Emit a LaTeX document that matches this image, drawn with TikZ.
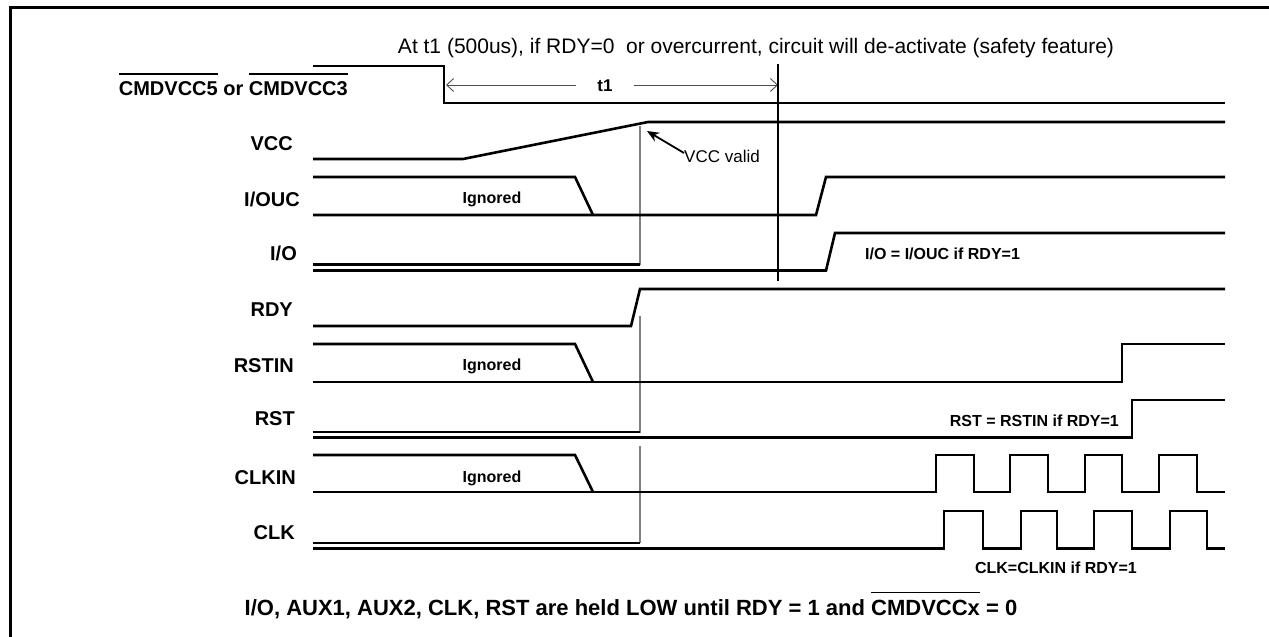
\documentclass[tikz,border=0pt]{standalone}
\usepackage{fontspec}
\setmainfont{Liberation Sans}
\usetikzlibrary{arrows.meta}
\newcommand\ovl[1]{\vbox{\hrule height 1.2pt\kern 6.5pt\hbox{#1}}}
\begin{document}
\begin{tikzpicture}[x=1pt,y=-1pt,
  sig/.style={line width=2.6pt, line join=miter, black},
  lbl/.style={anchor=east, font=\fontsize{20}{24}\selectfont\bfseries, inner sep=0pt, text height=14.3pt, text depth=0pt},
  note/.style={font=\fontsize{16}{19}\selectfont\bfseries, inner sep=0pt, text height=11.5pt, text depth=0pt},
  marker/.style={line width=1.8pt, color=black!50},
  tline/.style={line width=1.1pt, black},
  tarrow/.style={line width=0.9pt, black!70, -{Straight Barb[length=7pt,width=13pt]}},
  varrow/.style={line width=1.8pt, black, -{Stealth[length=12pt,width=10pt]}}]
\useasboundingbox (0,0) rectangle (1269,637);
\clip (0,0) rectangle (1269,637);
% frame
\draw[line width=3pt] (10,660) -- (10,7) -- (1290,7);
% title
\node[anchor=base, inner sep=0pt, font=\fontsize{21}{25}\selectfont] (title) at (756,53.5)
  {At t1 (500us), if RDY=0\ \ or overcurrent, circuit will de-activate (safety feature)};
% labels
\node[lbl] (lcmd) at (348,88) {\ovl{CMDVCC5} or \ovl{CMDVCC3}};
\node[lbl] (lvcc) at (293,143) {VCC};
\node[lbl] (liouc) at (300,199) {I/OUC};
\node[lbl] (lio) at (297,253) {I/O};
\node[lbl] (lrdy) at (293,309) {RDY};
\node[lbl] (lrstin) at (294,365) {RSTIN};
\node[lbl] (lrst) at (295,418) {RST};
\node[lbl] (lclkin) at (296,477) {CLKIN};
\node[lbl] (lclk) at (295,532) {CLK};
% CMDVCC
\draw[sig] (313,66) -- (444,66) -- (444,103) -- (1225,103);
% t1
\node[font=\fontsize{17}{20}\selectfont\bfseries, inner xsep=21pt, inner ysep=0pt, text height=12pt, text depth=0pt] (t1) at (605,85) {t1};
\coordinate (t1L) at (446,85);
\coordinate (t1R) at (778,85);
\draw[tarrow] (t1.west) -- (t1L);
\draw[tarrow] (t1.east) -- (t1R);
\draw[tline] (778,64) -- (778,281);
% VCC
\draw[sig] (313,159) -- (463,159) -- (648,122) -- (1225,122);
\draw[marker] (640,126) -- (640,265);
\draw[marker] (640,316) -- (640,433);
\draw[marker] (640,446) -- (640,543);
\node[anchor=west, inner sep=0pt, font=\fontsize{17}{20}\selectfont, text height=12.2pt, text depth=0pt] (vccv) at (684,156) {VCC valid};
\coordinate (vccp) at (647,131);
\draw[varrow] (vccv.west) ++(0,-3) -- (vccp);
% I/OUC
\draw[sig] (313,177) -- (575,177) -- (593,215);
\draw[sig] (313,215) -- (816,215) -- (826,177) -- (1225,177);
\node[note] (ign1) at (492,198) {Ignored};
% I/O
\draw[sig] (313,264.5) -- (640,264.5);
\draw[sig] (313,270.5) -- (826,270.5) -- (835,233) -- (1225,233);
\node[note, anchor=west] (ionote) at (865,254) {I/O = I/OUC if RDY=1};
% RDY
\draw[sig] (313,326) -- (631,326) -- (640,289) -- (1225,289);
% RSTIN
\draw[sig] (313,344) -- (575,344) -- (593,382);
\draw[sig] (313,382) -- (1122,382) -- (1122,344) -- (1225,344);
\node[note] (ign2) at (492,365) {Ignored};
% RST
\draw[sig] (313,432) -- (640,432);
\draw[sig] (313,437.5) -- (1132,437.5) -- (1132,400) -- (1225,400);
\node[note, anchor=east] (rstnote) at (1119,421) {RST = RSTIN if RDY=1};
% CLKIN
\draw[sig] (313,455) -- (575,455) -- (593,492);
\draw[sig] (313,492) -- (936,492) -- (936,455) -- (974,455) -- (974,492)
  -- (1010,492) -- (1010,455) -- (1048,455) -- (1048,492)
  -- (1085,492) -- (1085,455) -- (1122,455) -- (1122,492)
  -- (1159,492) -- (1159,455) -- (1197,455) -- (1197,492) -- (1225,492);
\node[note] (ign3) at (492,477) {Ignored};
% CLK
\draw[sig] (313,543) -- (640,543);
\draw[sig] (313,548.5) -- (944,548.5) -- (944,511) -- (983,511) -- (983,548.5)
  -- (1021,548.5) -- (1021,511) -- (1057,511) -- (1057,548.5)
  -- (1094,548.5) -- (1094,511) -- (1132,511) -- (1132,548.5)
  -- (1170,548.5) -- (1170,511) -- (1207,511) -- (1207,548.5) -- (1225,548.5);
\node[note] (clknote) at (1056,568) {CLK=CLKIN if RDY=1};
% bottom
\node[anchor=base, inner sep=0pt, font=\fontsize{22}{26}\selectfont\bfseries] (bottom) at (631,615)
  {I/O, AUX1, AUX2, CLK, RST are held LOW until RDY = 1 and \ovl{CMDVCCx} = 0};
\end{tikzpicture}
\end{document}
